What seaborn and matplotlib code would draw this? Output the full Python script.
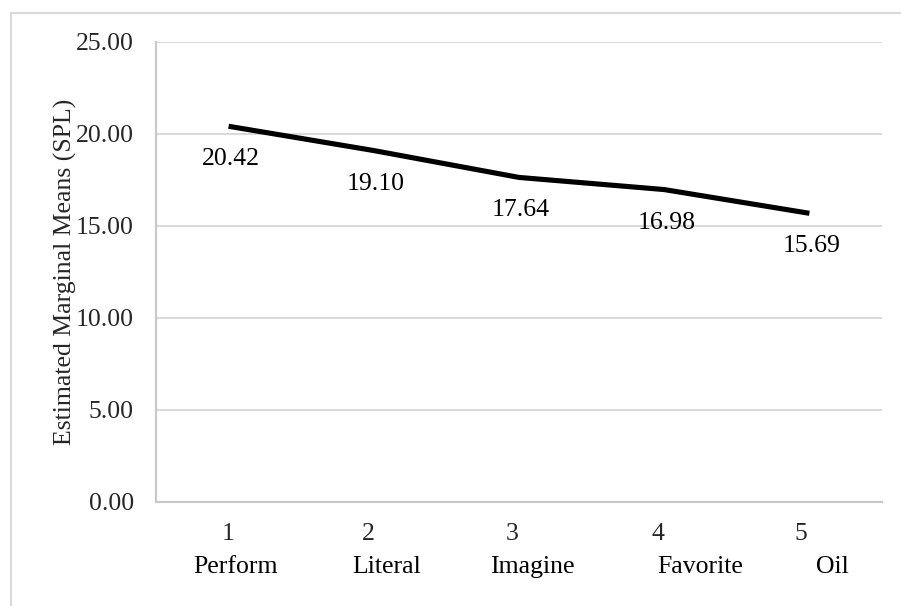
import matplotlib
matplotlib.use("Agg")
import matplotlib.pyplot as plt
import matplotlib.transforms as mtransforms
import seaborn as sns
import pandas as pd
from matplotlib.lines import Line2D

numbers = ["1", "2", "3", "4", "5"]
conditions = ["Perform", "Literal", "Imagine", "Favorite", "Oil"]
means = [20.42, 19.10, 17.64, 16.98, 15.69]
y_ticks = [0, 5, 10, 15, 20, 25]

df = pd.DataFrame({"num": numbers, "cond": conditions, "mean": means})

sns.set_theme(style="white")
plt.rcParams["font.family"] = ["Liberation Serif", "DejaVu Serif"]

FS = 18.5
fig = plt.figure(figsize=(9.01, 6.06), dpi=100)
ax = fig.add_axes([156 / 901, 1 - 502 / 606, (882 - 156) / 901, (502 - 42) / 606])

sns.lineplot(data=df, x="num", y="mean", ax=ax, color="black", linewidth=3.7,
             sort=False, solid_capstyle="butt")

ax.set_xlim(-0.5, 4.5)
ax.set_ylim(0, 25)
ax.set_yticks(y_ticks)
ax.set_yticklabels([f"{v:.2f}" for v in y_ticks], fontsize=FS)
ax.yaxis.grid(True, color="#d9d9d9", linewidth=1.5)
ax.set_axisbelow(True)
for s in ["top", "right"]:
    ax.spines[s].set_visible(False)
for s in ["left", "bottom"]:
    ax.spines[s].set_color("#c8c8c8")
    ax.spines[s].set_linewidth(1.5)
ax.tick_params(axis="y", length=0, pad=16)
ax.tick_params(axis="x", length=0, pad=15)
ax.set_xticks(range(len(numbers)))
ax.set_xticklabels(numbers, fontsize=FS)
ax.set_xlabel("")
ax.set_ylabel("Estimated Marginal Means (SPL)", fontsize=FS, labelpad=-1)

# small horizontal shifts of the category numbers (Excel layout)
num_dx = [0, -5, -7, -6, -9]
for lab, dx in zip(ax.get_xticklabels(), num_dx):
    lab.set_transform(lab.get_transform() +
                      mtransforms.ScaledTranslation(dx / 100, 0, fig.dpi_scale_trans))

# category names under the numbers
name_dx = [7, 13, 13, 36, 23]
for i, (name, dx) in enumerate(zip(conditions, name_dx)):
    ax.annotate(name, xy=(i, 0), xycoords=("data", "axes fraction"),
                xytext=(dx, -65), textcoords="offset pixels",
                ha="center", va="center", fontsize=FS, color="black")

# data labels
for i, v in enumerate(means):
    ax.annotate(f"{v:.2f}", xy=(i, v), xytext=(2, -33), textcoords="offset pixels",
                ha="center", va="center", fontsize=FS, color="black")

# figure border (left and top visible)
fig.add_artist(Line2D([11 / 901, 11 / 901], [0, 1 - 13 / 606], transform=fig.transFigure,
                      color="#d9d9d9", linewidth=1.5))
fig.add_artist(Line2D([11 / 901, 1], [1 - 13 / 606, 1 - 13 / 606], transform=fig.transFigure,
                      color="#d9d9d9", linewidth=1.5))

fig.savefig("out.png", dpi=100)
